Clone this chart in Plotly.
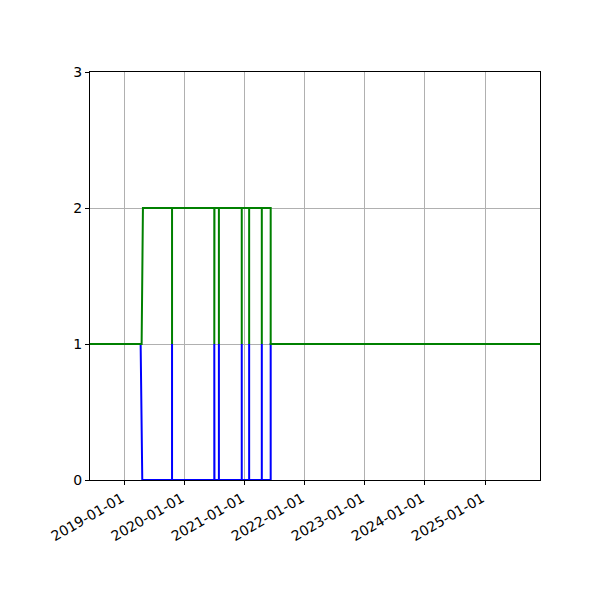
import plotly.graph_objects as go

# blue series (lower): drops to 0, short spikes back to 1, then stays at 1
blue_dates = [
    "2018-06-01", "2019-04-08", "2019-04-18",
    "2019-10-16", "2019-10-16", "2019-10-16",
    "2020-06-29", "2020-06-29", "2020-06-30",
    "2020-07-27", "2020-07-27", "2020-07-27",
    "2020-12-13", "2020-12-13", "2020-12-13",
    "2021-01-27", "2021-01-27", "2021-01-27",
    "2021-04-14", "2021-04-14", "2021-04-14",
    "2021-06-07", "2021-06-07", "2025-12-31",
]
blue_values = [1, 1, 0, 0, 1, 0, 0, 1, 0, 0, 1, 0, 0, 1, 0, 0, 1, 0, 0, 1, 0, 0, 1, 1]

# green series (upper)
green_dates = [
    "2018-06-01", "2019-04-14", "2019-04-22",
    "2019-10-16", "2019-10-16", "2019-10-16",
    "2020-06-29", "2020-06-29", "2020-06-30",
    "2020-07-27", "2020-07-27", "2020-07-27",
    "2020-12-13", "2020-12-13", "2020-12-13",
    "2021-01-27", "2021-01-27", "2021-01-27",
    "2021-04-14", "2021-04-14", "2021-04-14",
    "2021-06-07", "2021-06-07", "2025-12-31",
]
green_values = [1, 1, 2, 2, 1, 2, 2, 1, 2, 2, 1, 2, 2, 1, 2, 2, 1, 2, 2, 1, 2, 2, 1, 1]

year_ticks = ["2019-01-01", "2020-01-01", "2021-01-01", "2022-01-01",
              "2023-01-01", "2024-01-01", "2025-01-01"]

fig = go.Figure()

fig.add_trace(go.Scatter(x=blue_dates, y=blue_values, mode="lines",
                         line=dict(color="blue", width=2), showlegend=False))
fig.add_trace(go.Scatter(x=green_dates, y=green_values, mode="lines",
                         line=dict(color="green", width=2), showlegend=False))

axis_style = dict(
    showline=True, mirror=True, linecolor="black", linewidth=1,
    ticks="outside", ticklen=4, tickcolor="black",
    showgrid=True, gridcolor="#b0b0b0", gridwidth=1, zeroline=False,
)

# page body adds 8px, so margins are shifted to keep the plot box at 90..540 / 72..480
fig.update_layout(
    width=600, height=600,
    margin=dict(l=82, r=68, t=64, b=128),
    plot_bgcolor="white", paper_bgcolor="white",
    font=dict(family="DejaVu Sans", size=14, color="black"),
    xaxis=dict(range=["2018-06-04", "2025-12-01"], tickmode="array",
               tickvals=year_ticks, ticktext=year_ticks, tickangle=-30,
               ticklabelshift=-3, **axis_style),
    yaxis=dict(range=[0, 3], tickvals=[0, 1, 2, 3], **axis_style),
)

fig.write_html("out.html")
